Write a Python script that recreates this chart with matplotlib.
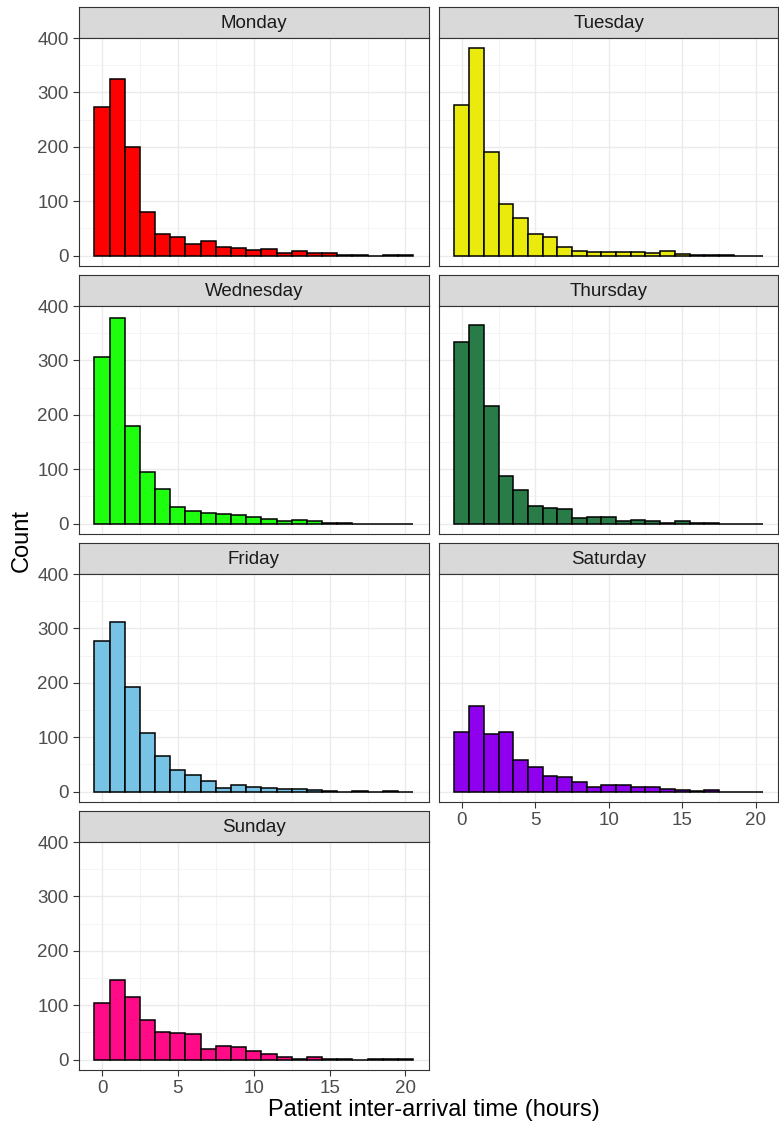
import numpy as np
import matplotlib
matplotlib.use("Agg")
import matplotlib.pyplot as plt
from matplotlib.ticker import MultipleLocator

plt.rcParams['font.family'] = ['Liberation Sans', 'DejaVu Sans']

days = ["Monday", "Tuesday", "Wednesday", "Thursday", "Friday", "Saturday", "Sunday"]
colors = ["#FF0000", "#EAEA0C", "#1EFF10", "#297B47", "#77C3E6", "#8E00EE", "#FF0A87"]

# bin centres (hours), width 1
bin_centres = list(range(21))

monday = [274, 324, 199, 80, 40, 35, 22, 26, 16, 14, 10, 13, 5, 8, 4, 5, 2, 1, 0, 1, 1]
tuesday = [276, 381, 190, 94, 70, 40, 34, 16, 9, 7, 7, 7, 6, 4, 8, 3, 1, 1, 1, 0, 0]
wednesday = [307, 378, 179, 95, 63, 31, 23, 19, 18, 15, 13, 8, 5, 6, 4, 1, 1, 0, 0, 0, 0]
thursday = [334, 366, 216, 87, 61, 33, 29, 26, 11, 13, 12, 5, 7, 4, 1, 4, 2, 1, 0, 0, 0]
friday = [277, 311, 192, 107, 66, 40, 31, 20, 7, 12, 9, 6, 5, 4, 3, 1, 0, 1, 0, 1, 0]
saturday = [109, 157, 106, 110, 58, 45, 28, 27, 18, 8, 12, 12, 8, 8, 4, 3, 1, 3, 0, 0, 0]
sunday = [105, 147, 116, 73, 50, 49, 48, 20, 25, 23, 15, 10, 4, 2, 5, 1, 1, 0, 2, 1, 1]

counts = [monday, tuesday, wednesday, thursday, friday, saturday, sunday]

W, H = 779, 1126
fig = plt.figure(figsize=(W / 100, H / 100), dpi=100)

col_x = [(78.5, 429), (439, 778.5)]
row_top = [7, 275, 543, 811]
strip_h = 31
panel_h = 228

ymax = max(max(c) for c in counts)
ylim = (-0.05 * ymax, 1.05 * ymax)
xlim = (-0.5 - 0.05 * 21, 20.5 + 0.05 * 21)

border = "#333333"

for i, (day, col, c) in enumerate(zip(days, colors, counts)):
    r, k = divmod(i, 2)
    x0, x1 = col_x[k]
    top = row_top[r]
    # strip
    sax = fig.add_axes([x0 / W, 1 - (top + strip_h) / H, (x1 - x0) / W, strip_h / H])
    sax.set_facecolor("#D9D9D9")
    sax.set_xticks([])
    sax.set_yticks([])
    for s in sax.spines.values():
        s.set_color(border)
        s.set_linewidth(0.8)
    sax.text(0.5, 0.48, day, ha="center", va="center", fontsize=13.5, color="#1A1A1A",
             transform=sax.transAxes)

    ax = fig.add_axes([x0 / W, 1 - (top + strip_h + panel_h) / H, (x1 - x0) / W, panel_h / H])
    ax.bar(bin_centres, c, width=1.0, color=col, edgecolor="black", linewidth=1.1, zorder=3)
    ax.set_xlim(xlim)
    ax.set_ylim(ylim)
    ax.xaxis.set_major_locator(MultipleLocator(5))
    ax.xaxis.set_minor_locator(MultipleLocator(2.5))
    ax.yaxis.set_major_locator(MultipleLocator(100))
    ax.yaxis.set_minor_locator(MultipleLocator(50))
    ax.grid(which="major", color="#EBEBEB", linewidth=1.0, zorder=0)
    ax.grid(which="minor", color="#F2F2F2", linewidth=0.6, zorder=0)
    ax.set_axisbelow(True)
    for s in ax.spines.values():
        s.set_color(border)
        s.set_linewidth(0.8)
    ax.tick_params(which="minor", length=0)
    ax.tick_params(which="major", length=4, color=border, labelsize=13.5,
                   labelcolor="#4D4D4D", width=0.8, pad=3)
    bottom_panel = (i == 5 or i == 6)
    if not bottom_panel:
        ax.tick_params(axis="x", which="major", length=0, labelbottom=False)
    if k == 1:
        ax.tick_params(axis="y", which="major", length=0, labelleft=False)

fig.text(434 / W, 1 - 1110 / H, "Patient inter-arrival time (hours)", ha="center",
         va="center", fontsize=17, color="black")
fig.text(22 / W, 1 - 540 / H, "Count", ha="center", va="center", rotation=90,
         fontsize=17, color="black")

fig.savefig("out.png", dpi=100)
